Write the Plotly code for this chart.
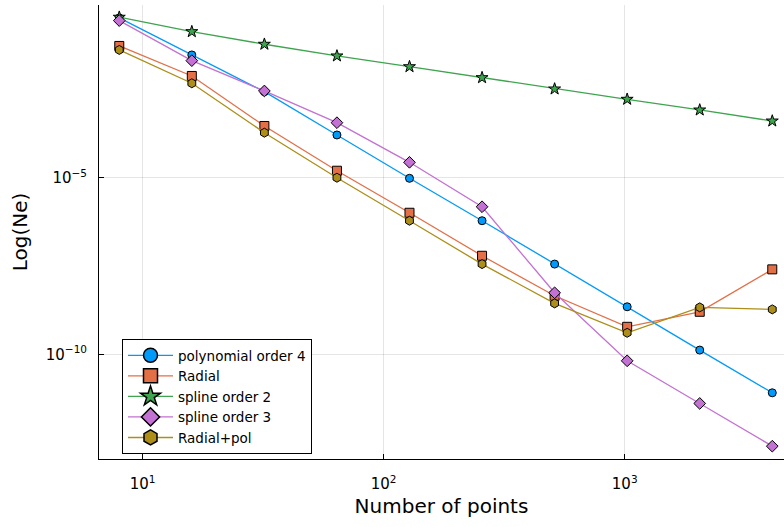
import plotly.graph_objects as go

n_points = [8, 16, 32, 64, 128, 256, 512, 1024, 2048, 4096]

log_poly4 = [-0.476, -1.524, -2.564, -3.79, -5.017, -6.218, -7.445, -8.654, -9.88, -11.09]
log_radial = [-1.269, -2.119, -3.535, -4.802, -5.992, -7.21, -8.343, -9.221, -8.796, -7.595]
log_spline2 = [-0.456, -0.864, -1.221, -1.552, -1.856, -2.167, -2.487, -2.779, -3.082, -3.394]
log_spline3 = [-0.552, -1.686, -2.544, -3.442, -4.564, -5.822, -8.258, -10.184, -11.391, -12.601]
log_radpol = [-1.382, -2.326, -3.725, -5.0, -6.218, -7.445, -8.558, -9.391, -8.671, -8.728]

series = [
    ("polynomial order 4", log_poly4, "#009AFA", "circle", 8, 14),
    ("Radial", log_radial, "#E36F47", "square", 9, 14),
    ("spline order 2", log_spline2, "#3EA44E", "star", 9, 15),
    ("spline order 3", log_spline3, "#C371D2", "diamond", 9, 14),
    ("Radial+pol", log_radpol, "#AC8E18", "hexagon", 9, 15),
]

x_tickvals = [10, 100, 1000]
x_ticktext = ["10<sup>1</sup>", "10<sup>2</sup>", "10<sup>3</sup>"]
y_tickvals = [1e-5, 1e-10]
y_ticktext = ["10<sup>\u22125</sup>", "10<sup>\u221210</sup>"]

fig = go.Figure()
for name, logs, color, sym, size, lsize in series:
    fig.add_trace(go.Scatter(
        x=n_points, y=[10 ** v for v in logs], name=name, mode="lines+markers",
        line=dict(color=color, width=1.3), showlegend=False, legendgroup=name,
        marker=dict(symbol=sym, size=size, color=color, line=dict(color="black", width=1)),
    ))
# legend entries (larger legend symbols, as in the reference)
for name, logs, color, sym, size, lsize in series:
    fig.add_trace(go.Scatter(
        x=[None], y=[None], name=name, mode="lines+markers", legendgroup=name,
        line=dict(color=color, width=1.3),
        marker=dict(symbol=sym, size=lsize, color=color, line=dict(color="black", width=1.5)),
    ))

plot_h = 527 - 5 - 68
fig.update_layout(
    width=784, height=527,
    margin=dict(l=99, r=0, t=5, b=68),
    paper_bgcolor="white", plot_bgcolor="white",
    font=dict(family="DejaVu Sans", size=14, color="black"),
    showlegend=True,
    legend=dict(x=(122 - 99) / 685, y=(459 - 339) / plot_h, xanchor="left", yanchor="top",
                bordercolor="black", borderwidth=1, bgcolor="white",
                font=dict(size=13.5), tracegroupgap=0, itemwidth=45),
)
fig.update_xaxes(
    type="log", range=[0.819, 3.661],
    tickvals=x_tickvals, ticktext=x_ticktext,
    showgrid=True, gridcolor="rgba(0,0,0,0.1)", gridwidth=1,
    showline=True, linecolor="black", linewidth=1,
    ticks="inside", ticklen=5, tickcolor="black",
    zeroline=False, mirror=False,
    ticklabelstandoff=11,
    title=dict(text="Number of points", font=dict(size=20), standoff=6),
    tickfont=dict(size=15),
)
fig.update_yaxes(
    type="log", range=[-12.964, -0.11],
    tickvals=y_tickvals, ticktext=y_ticktext,
    showgrid=True, gridcolor="rgba(0,0,0,0.1)", gridwidth=1,
    showline=True, linecolor="black", linewidth=1,
    ticks="inside", ticklen=5, tickcolor="black",
    zeroline=False, mirror=False,
    ticklabelstandoff=8,
    title=dict(text="Log(Ne)", font=dict(size=20), standoff=12),
    tickfont=dict(size=15),
)

fig.write_html("out.html")
